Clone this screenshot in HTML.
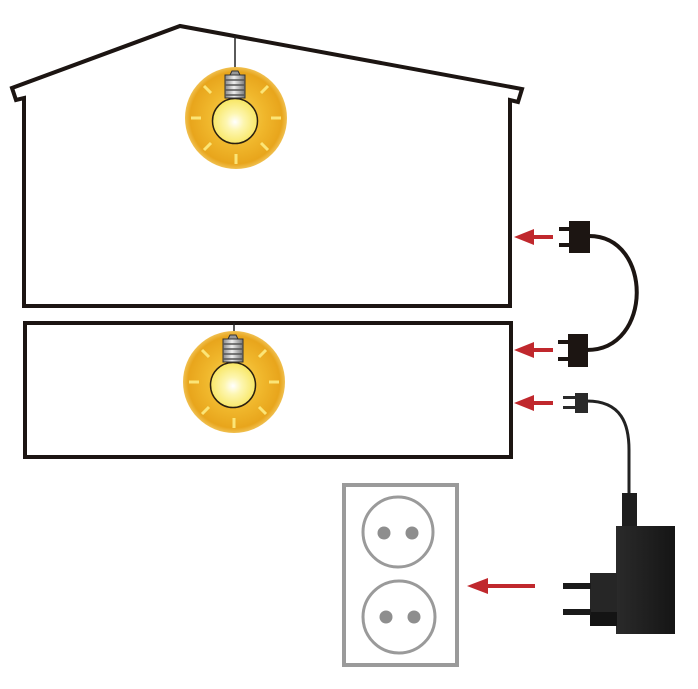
<!DOCTYPE html>
<html>
<head>
<meta charset="utf-8">
<style>
html,body{margin:0;padding:0;background:#fff;}
svg{display:block;}
</style>
</head>
<body>
<svg width="698" height="689" viewBox="0 0 698 689" xmlns="http://www.w3.org/2000/svg">
<defs>
  <radialGradient id="glow" cx="50%" cy="50%" r="50%">
    <stop offset="0" stop-color="#f9d85a"/>
    <stop offset="0.55" stop-color="#f0b72c"/>
    <stop offset="0.9" stop-color="#e8a51c"/>
    <stop offset="1" stop-color="#f0c050"/>
  </radialGradient>
  <radialGradient id="globe" cx="50%" cy="52%" r="55%">
    <stop offset="0" stop-color="#ffffff"/>
    <stop offset="0.35" stop-color="#fdf6b0"/>
    <stop offset="1" stop-color="#f7e45a"/>
  </radialGradient>
  <linearGradient id="sock" x1="0" y1="0" x2="1" y2="0">
    <stop offset="0" stop-color="#888"/>
    <stop offset="0.45" stop-color="#eee"/>
    <stop offset="1" stop-color="#777"/>
  </linearGradient>
  <linearGradient id="adbody" x1="0" y1="0" x2="1" y2="0">
    <stop offset="0" stop-color="#2a2a2a"/>
    <stop offset="0.5" stop-color="#202020"/>
    <stop offset="1" stop-color="#151515"/>
  </linearGradient>
  <g id="bulb">
    <circle cx="0" cy="0" r="51" fill="url(#glow)"/>
    <g stroke="#fbe577" stroke-width="3" stroke-linecap="butt">
      <line x1="-35" y1="0" x2="-45" y2="0"/>
      <line x1="35" y1="0" x2="45" y2="0"/>
      <line x1="0" y1="36" x2="0" y2="46"/>
      <line x1="-25" y1="25" x2="-32" y2="32"/>
      <line x1="25" y1="25" x2="32" y2="32"/>
      <line x1="-25" y1="-25" x2="-32" y2="-32"/>
      <line x1="25" y1="-25" x2="32" y2="-32"/>
    </g>
    <ellipse cx="-1" cy="3" rx="22.5" ry="22.5" fill="url(#globe)" stroke="#2a1f10" stroke-width="1.5"/>
    <path d="M-11,-20 L-11,-43 L9,-43 L9,-20 Z" fill="url(#sock)" stroke="#333" stroke-width="1"/>
    <g stroke="#555" stroke-width="1.4">
      <line x1="-11" y1="-38" x2="9" y2="-38"/>
      <line x1="-11" y1="-33" x2="9" y2="-33"/>
      <line x1="-11" y1="-28" x2="9" y2="-28"/>
      <line x1="-11" y1="-23" x2="9" y2="-23"/>
    </g>
    <path d="M-6,-43 L-4,-47 L2,-47 L4,-43 Z" fill="#999" stroke="#333" stroke-width="1"/>
  </g>
</defs>

<!-- Upper house -->
<path d="M24,306 L24,98 L16,100 L12,88 L180,26 L522,89 L518,102 L510,100 L510,306 Z" fill="none" stroke="#1c1512" stroke-width="4" stroke-linejoin="miter"/>
<!-- Lower box -->
<rect x="25" y="323" width="486" height="134" fill="none" stroke="#1c1512" stroke-width="4"/>

<!-- Bulb 1 -->
<line x1="235" y1="36" x2="235" y2="72" stroke="#222" stroke-width="1.5"/>
<use href="#bulb" transform="translate(236,118)"/>
<!-- Bulb 2 -->
<line x1="234" y1="323" x2="234" y2="337" stroke="#222" stroke-width="1.5"/>
<use href="#bulb" transform="translate(234,382)"/>

<!-- Arrows -->
<g fill="#c0282d">
  <rect x="530" y="235" width="23" height="4"/>
  <path d="M514,237 L534,229 L534,245 Z"/>
  <rect x="530" y="348" width="23" height="4"/>
  <path d="M514,350 L534,342 L534,358 Z"/>
  <rect x="530" y="401" width="23" height="4"/>
  <path d="M514,403 L534,395 L534,411 Z"/>
  <rect x="484" y="584" width="51" height="4"/>
  <path d="M467,586 L488,578 L488,594 Z"/>
</g>

<!-- Cord between plug 1 and plug 2 -->
<path d="M589,236 C653,236 653,350 587,350" fill="none" stroke="#1c1512" stroke-width="4"/>
<!-- Plug 1 -->
<g fill="#1c1512">
  <rect x="569" y="221" width="21" height="32"/>
  <rect x="559" y="227" width="11" height="4"/>
  <rect x="559" y="243" width="11" height="4"/>
</g>
<!-- Plug 2 -->
<g fill="#1c1512">
  <rect x="568" y="334" width="20" height="33"/>
  <rect x="558" y="340" width="11" height="4"/>
  <rect x="558" y="357" width="11" height="4"/>
</g>

<!-- Plug 3 + adapter cord -->
<path d="M587,401 C622,401 629,425 629,450 L629,495" fill="none" stroke="#222" stroke-width="3"/>
<g fill="#2a2a2a">
  <rect x="575" y="393" width="13" height="20"/>
  <rect x="563" y="396" width="13" height="3"/>
  <rect x="563" y="406" width="13" height="3"/>
</g>

<!-- Adapter -->
<rect x="622" y="493" width="15" height="34" fill="#1e1e1e"/>
<rect x="616" y="526" width="59" height="108" fill="url(#adbody)"/>
<rect x="590" y="573" width="27" height="53" fill="#262626"/>
<rect x="590" y="612" width="27" height="14" fill="#141414"/>
<rect x="563" y="583" width="28" height="6" fill="#1a1a1a"/>
<rect x="563" y="609" width="28" height="6" fill="#1a1a1a"/>

<!-- Outlet -->
<rect x="344" y="485" width="113" height="180" fill="none" stroke="#9a9a9a" stroke-width="4"/>
<circle cx="398" cy="532" r="35" fill="none" stroke="#9a9a9a" stroke-width="3"/>
<circle cx="399" cy="617" r="36" fill="none" stroke="#9a9a9a" stroke-width="3"/>
<g fill="#8e8e8e">
  <circle cx="384" cy="533" r="6.5"/>
  <circle cx="412" cy="533" r="6.5"/>
  <circle cx="386" cy="617" r="6.5"/>
  <circle cx="414" cy="617" r="6.5"/>
</g>
</svg>
</body>
</html>
